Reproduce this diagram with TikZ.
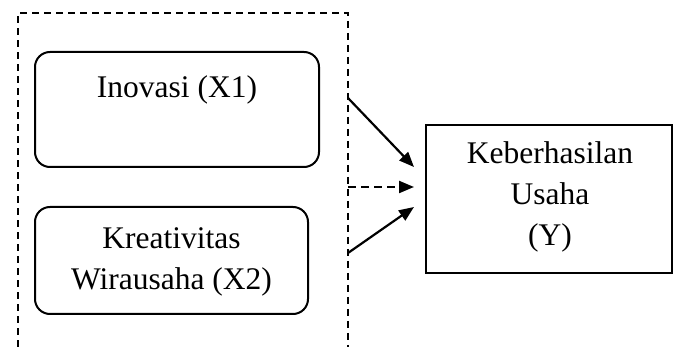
\documentclass[tikz,border=0pt]{standalone}
\usepackage{fontspec}
\setmainfont{Liberation Serif}
\usetikzlibrary{arrows.meta}
\begin{document}
\begin{tikzpicture}[x=1pt,y=-1pt,
  rbox/.style={draw,line width=2pt,rounded corners=15pt,inner sep=0pt},
  ybox/.style={draw,line width=2pt,inner sep=0pt},
  lbl/.style={align=center,inner sep=0pt,font=\fontsize{31.5}{41}\selectfont},
  arr/.style={line width=2.2pt,-{Triangle[length=15pt,width=12pt]}},
  frame/.style={line width=1.8pt,dash pattern=on 7pt off 5pt}]
\useasboundingbox (0,0) rectangle (678,347);
% dashed frame (open at the bottom)
\draw[frame] (18,347) -- (18,13) -- (348,13) -- (348,347);
% boxes
\node[rbox,minimum width=284pt,minimum height=115pt] (b1) at (177,109.5) {};
\node[lbl] (t1) at (177,90) {Inovasi (X1)};
\node[rbox,minimum width=273pt,minimum height=107pt] (b2) at (171.5,260.5) {};
\node[lbl] (t2) at (171.5,262) {Kreativitas\\Wirausaha (X2)};
\node[ybox,minimum width=246pt,minimum height=148pt] (y) at (549,199) {};
\node[lbl] (ty) at (550,197) {Keberhasilan\\Usaha\\(Y)};
% arrow end points
\coordinate (s1) at (348,98);
\coordinate (s2) at (348,187);
\coordinate (s3) at (348,253);
\coordinate (e1) at (414,167);
\coordinate (e2) at (414,187);
\coordinate (e3) at (414,207);
\draw[arr] (s1) -- (e1);
\draw[arr,dash pattern=on 8pt off 5pt] (s2) -- (e2);
\draw[arr] (s3) -- (e3);
\end{tikzpicture}
\end{document}
